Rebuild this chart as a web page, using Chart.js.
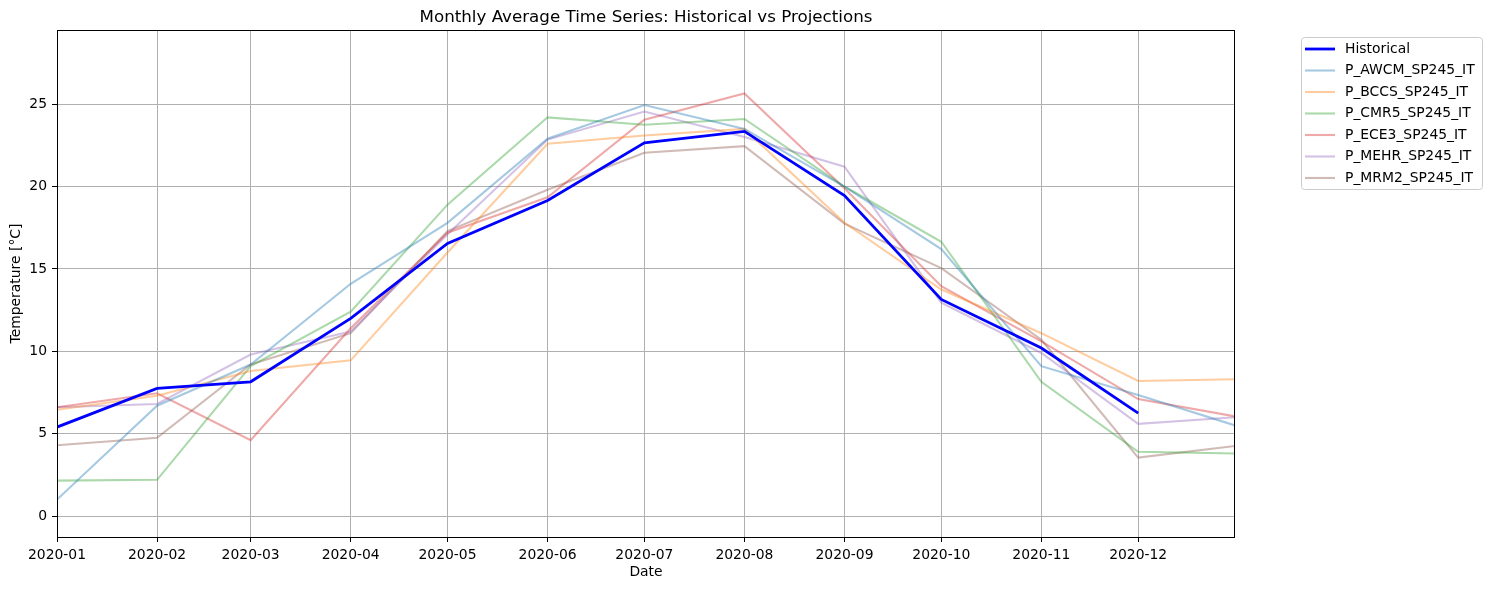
<!DOCTYPE html>
<html>
<head>
<meta charset="utf-8">
<script src="https://cdn.jsdelivr.net/npm/chart.js@4.4.0/dist/chart.umd.min.js"></script>
<style>
  html, body { margin: 0; padding: 0; background: #fff; }
  canvas { display: block; }
</style>
</head>
<body>
<canvas id="grafico" width="1490" height="590"></canvas>
<script>
// Dados (médias mensais, °C)
const months = ['2020-01', '2020-02', '2020-03', '2020-04', '2020-05', '2020-06',
                '2020-07', '2020-08', '2020-09', '2020-10', '2020-11', '2020-12'];
const monthDays = [0, 31, 60, 91, 121, 152, 182, 213, 244, 274, 305, 335];
const endDay = 365;
const yTicks = [0, 5, 10, 15, 20, 25];

const historical = [5.4, 7.75, 8.15, 12.0, 16.55, 19.15, 22.65, 23.35, 19.45, 13.15, 10.2, 6.25];
// projeções: 12 meses + valor no limite direito do eixo
const pAWCM = [1.0, 6.7, 9.2, 14.1, 17.8, 22.9, 24.95, 23.5, 20.0, 16.2, 9.1, 7.35, 5.5];
const pBCCS = [6.45, 7.3, 8.8, 9.45, 16.0, 22.6, 23.1, 23.5, 17.8, 13.75, 11.1, 8.2, 8.3];
const pCMR5 = [2.15, 2.2, 9.1, 12.4, 18.9, 24.2, 23.75, 24.1, 20.0, 16.65, 8.15, 3.9, 3.8];
const pECE3 = [6.6, 7.45, 4.6, 11.4, 17.2, 19.35, 24.05, 25.65, 19.9, 13.95, 10.6, 7.1, 6.05];
const pMEHR = [6.6, 6.8, 9.8, 11.2, 17.1, 22.85, 24.55, 23.0, 21.2, 12.95, 9.9, 5.6, 6.0];
const pMRM2 = [4.3, 4.75, 9.2, 11.1, 17.3, 19.8, 22.05, 22.45, 17.75, 15.05, 10.7, 3.55, 4.25];

const projNames = ['P_AWCM_SP245_IT', 'P_BCCS_SP245_IT', 'P_CMR5_SP245_IT',
                   'P_ECE3_SP245_IT', 'P_MEHR_SP245_IT', 'P_MRM2_SP245_IT'];
const projSeries = [pAWCM, pBCCS, pCMR5, pECE3, pMEHR, pMRM2];
const projColors = ['rgba(31,119,180,0.4)', 'rgba(255,127,14,0.4)', 'rgba(44,160,44,0.4)',
                    'rgba(214,39,40,0.4)', 'rgba(148,103,189,0.4)', 'rgba(140,86,75,0.4)'];

const FONT = 'DejaVu Sans, sans-serif';
const projDays = monthDays.concat([endDay]);

const datasets = [{
    label: 'Historical',
    data: historical.map((v, i) => ({ x: monthDays[i], y: v })),
    borderColor: '#0000ff',
    borderWidth: 2.8
}];
projSeries.forEach((serie, k) => {
    datasets.push({
        label: projNames[k],
        data: serie.map((v, i) => ({ x: projDays[i], y: v })),
        borderColor: projColors[k],
        borderWidth: 2.1
    });
});

// Título, rótulos dos eixos, moldura e legenda
const extras = {
    id: 'extras',
    afterDraw(chart) {
        const ctx = chart.ctx;
        const a = chart.chartArea;
        ctx.save();
        ctx.strokeStyle = '#000';
        ctx.lineWidth = 1;
        ctx.strokeRect(a.left + 0.5, a.top + 0.5, a.right - a.left - 1, a.bottom - a.top);

        ctx.fillStyle = '#000';
        ctx.textAlign = 'center';
        ctx.textBaseline = 'alphabetic';
        ctx.font = '16.7px ' + FONT;
        ctx.fillText('Monthly Average Time Series: Historical vs Projections', (a.left + a.right) / 2, 22);

        ctx.font = '13.9px ' + FONT;
        ctx.textBaseline = 'middle';
        ctx.fillText('Date', (a.left + a.right) / 2, 572);
        ctx.save();
        ctx.translate(16, (a.top + a.bottom) / 2);
        ctx.rotate(-Math.PI / 2);
        ctx.fillText('Temperature [°C]', 0, 0);
        ctx.restore();

        // legenda
        const lx = 1301.5, ly = 37.5, lw = 181, lh = 152;
        ctx.beginPath();
        ctx.roundRect(lx, ly, lw, lh, 3);
        ctx.fillStyle = 'rgba(255,255,255,0.8)';
        ctx.fill();
        ctx.strokeStyle = '#cccccc';
        ctx.stroke();
        ctx.textAlign = 'left';
        chart.data.datasets.forEach((ds, i) => {
            const y = 49 + i * 21.5;
            ctx.beginPath();
            ctx.moveTo(1305, y);
            ctx.lineTo(1335, y);
            ctx.strokeStyle = ds.borderColor;
            ctx.lineWidth = ds.borderWidth;
            ctx.stroke();
            ctx.fillStyle = '#000';
            ctx.fillText(ds.label, 1345, y);
        });
        ctx.restore();
    }
};

const eixoComum = {
    type: 'linear',
    grid: { color: '#b0b0b0', lineWidth: 1, tickLength: 5, tickColor: '#000' },
    border: { display: false },
    ticks: { color: '#000', font: { family: FONT, size: 13.9 }, padding: 5, maxRotation: 0, autoSkip: false }
};

new Chart(document.getElementById('grafico'), {
    type: 'line',
    data: { datasets: datasets },
    options: {
        responsive: false,
        animation: false,
        events: [],
        layout: { padding: { left: 0, top: 30, right: 255, bottom: 0 } },
        elements: { point: { radius: 0 }, line: { tension: 0 } },
        plugins: { legend: { display: false }, title: { display: false }, tooltip: { enabled: false } },
        scales: {
            x: Object.assign({}, eixoComum, {
                min: 0,
                max: endDay,
                afterBuildTicks: axis => { axis.ticks = monthDays.map(v => ({ value: v })); },
                ticks: Object.assign({}, eixoComum.ticks, {
                    callback: v => months[monthDays.indexOf(v)]
                }),
                afterFit: s => { s.height = 53; }
            }),
            y: Object.assign({}, eixoComum, {
                min: -1.27,
                max: 29.5,
                afterBuildTicks: axis => { axis.ticks = yTicks.map(v => ({ value: v })); },
                ticks: Object.assign({}, eixoComum.ticks, { callback: v => String(v) }),
                afterFit: s => { s.width = 57; }
            })
        }
    },
    plugins: [extras]
});
</script>
</body>
</html>
